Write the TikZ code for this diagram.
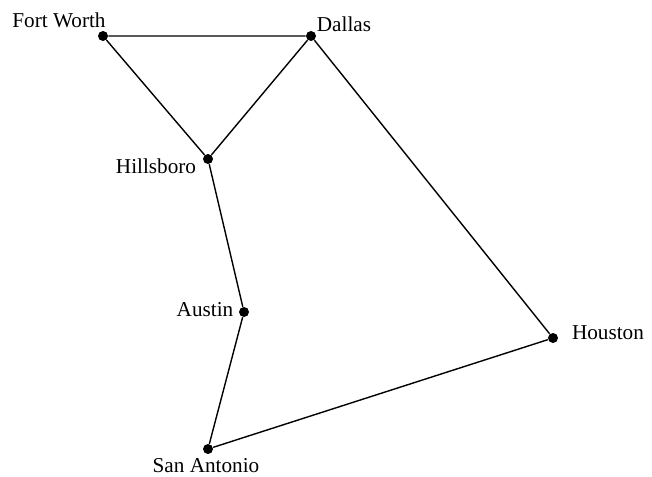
\documentclass[tikz,border=0pt]{standalone}
\usepackage{fontspec}
\setmainfont{Liberation Serif}
\begin{document}
\begin{tikzpicture}[x=0.5pt,y=-0.5pt,
  city/.style={circle,fill=black,inner sep=0pt,minimum size=5pt},
  lbl/.style={inner sep=0pt,font=\fontsize{10.6}{12}\selectfont},
  road/.style={line width=0.7pt}]
\useasboundingbox (0,0) rectangle (652,476);
\node[city] (fw) at (103,36) {};
\node[city] (da) at (311,36) {};
\node[city] (hi) at (208,159) {};
\node[city] (au) at (244,312) {};
\node[city] (ho) at (553,338) {};
\node[city] (sa) at (208,449) {};
\node[lbl] (tfw) at (59,20) {Fort Worth};
\node[lbl] (tda) at (344,24) {Dallas};
\node[lbl] (thi) at (156,166) {Hillsboro};
\node[lbl] (tau) at (205,310) {Austin};
\node[lbl] (tho) at (608,333) {Houston};
\node[lbl] (tsa) at (206,466) {San Antonio};
\draw[road] (fw) -- (da) -- (hi) -- (fw);
\draw[road] (hi) -- (au) -- (sa) -- (ho) -- (da);
\end{tikzpicture}
\end{document}
